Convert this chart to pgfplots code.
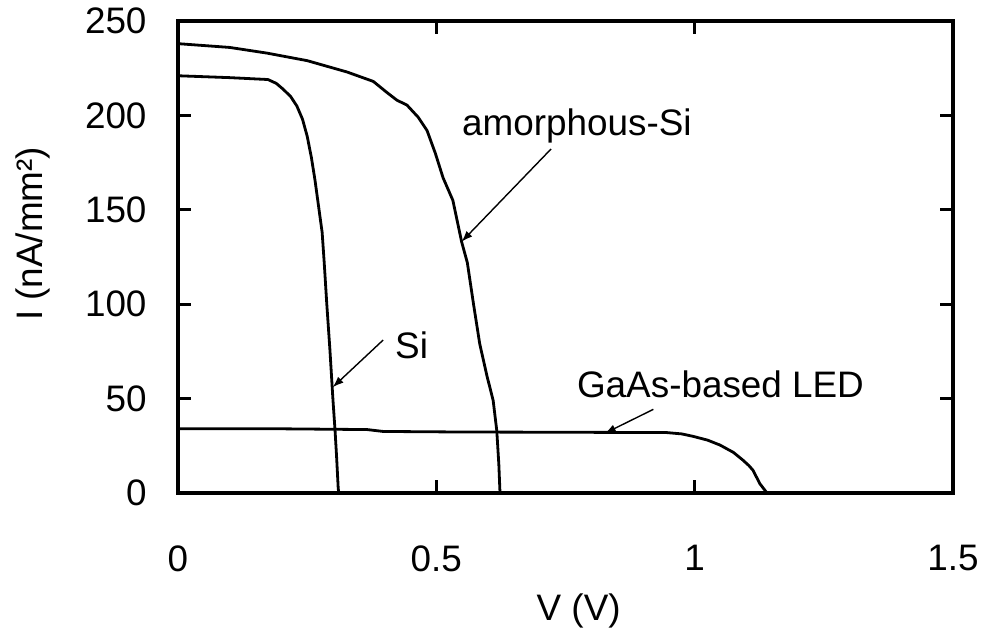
\documentclass[border=0pt]{standalone}
\usepackage{fontspec}
\setmainfont{Liberation Sans}
\usepackage{pgfplots}
\pgfplotsset{compat=1.18}
\usetikzlibrary{arrows.meta}

% I-V curves of three photovoltaic devices
\pgfplotstableread{
V I
0.000 238
0.100 236
0.172 233
0.250 229
0.327 223
0.378 218
0.405 212
0.424 208
0.443 205.5
0.465 199
0.482 192
0.498 180
0.513 167
0.532 155
0.549 133
0.560 122
0.572 100
0.584 79
0.598 62
0.610 49
0.617 33
0.621 15
0.623 1.6
0.624 0
}\amorphous

\pgfplotstableread{
V I
0.000 221
0.100 220
0.174 219
0.190 217
0.203 214
0.218 210
0.230 205
0.241 198
0.250 189
0.258 178
0.265 166
0.272 152
0.279 138
0.283 122
0.288 100
0.294 76
0.300 49
0.304 33
0.307 19
0.310 3
0.311 0
}\silicon

\pgfplotstableread{
V I
0.000 34
0.200 34
0.366 33.6
0.397 32.6
0.550 32.3
0.720 32.2
0.946 32
0.975 31.3
0.997 30
1.025 28
1.049 25.4
1.075 21.5
1.093 17.5
1.105 14.5
1.113 12
1.126 5
1.140 0
}\gaas

\begin{document}
\begin{tikzpicture}
\path[use as bounding box] (-178bp,-137bp) rectangle (805bp,493bp);
\fontsize{37}{44}\selectfont
\begin{axis}[
  scale only axis,
  width=775bp, height=472bp,
  at={(0,0)}, anchor=south west,
  xmin=0, xmax=1.5, ymin=0, ymax=250,
  xtick={0,0.5,1,1.5},
  ytick={0,50,100,150,200,250},
  xticklabels={0,0.5,1,1.5},
  tick align=inside,
  major tick length=13bp,
  axis line style={line width=3.2bp},
  every tick/.style={line width=3bp, black},
  /pgf/number format/assume math mode=true,
  tick label style={font=\fontsize{37}{44}\selectfont},
  yticklabel style={xshift=-19bp},
  xticklabel style={yshift=-40bp},
  xlabel={V (V)},
  ylabel={I (nA/mm²)},
  every axis x label/.style={at={(axis description cs:0.517,-0.25)}, anchor=center, font=\fontsize{37}{44}\selectfont},
  every axis y label/.style={at={(axis description cs:-0.187,0.549)}, rotate=90, anchor=center, font=\fontsize{37}{44}\selectfont},
  clip=false,
]
\addplot[black, line width=2.8bp, line join=round] table[x=V, y=I] {\amorphous};
\addplot[black, line width=2.8bp, line join=round] table[x=V, y=I] {\silicon};
\addplot[black, line width=2.8bp, line join=round] table[x=V, y=I] {\gaas};

\node[anchor=base west, inner sep=0pt] at (axis cs:0.5497,189.6) {amorphous-Si};
\node[anchor=base west, inner sep=0pt] at (axis cs:0.420,71.5) {Si};
\node[anchor=base west, inner sep=0pt] at (axis cs:0.772,50.8) {GaAs-based LED};

\draw[line width=1.4bp, -{Latex[length=11bp, width=8bp]}] (axis cs:0.722,182.2) -- (axis cs:0.549,133.1);
\draw[line width=1.4bp, -{Latex[length=11bp, width=8bp]}] (axis cs:0.397,81.0) -- (axis cs:0.2994,56.0);
\draw[line width=1.4bp, -{Latex[length=11bp, width=8bp]}] (axis cs:0.920,44.3) -- (axis cs:0.826,31.6);
\end{axis}
\end{tikzpicture}
\end{document}
